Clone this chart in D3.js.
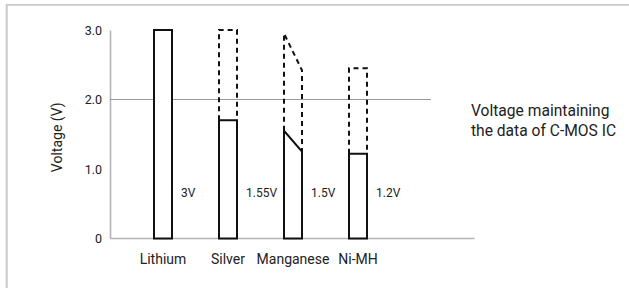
<!DOCTYPE html>
<html>
<head>
<meta charset="utf-8">
<script src="https://cdn.jsdelivr.net/npm/d3@7"></script>
<style>
  html, body { margin: 0; padding: 0; background: #fff; }
  svg { display: block; }
  text { font-family: Roboto, "Noto Sans", sans-serif; fill: #222; }
</style>
</head>
<body>
<svg id="chart" width="629" height="288"></svg>
<script>
// ---- data ----
const categories = ["Lithium", "Silver", "Manganese", "Ni-MH"];
const nominalLabels = ["3V", "1.55V", "1.5V", "1.2V"];
// top of solid outline at left / right edge of bar (V)
const solidLeft  = [3.0, 1.70, 1.55, 1.22];
const solidRight = [3.0, 1.70, 1.25, 1.22];
// top of dashed outline at left / right edge of bar (V); null = none
const dashedLeft  = [null, 3.0, 2.95, 2.45];
const dashedRight = [null, 3.0, 2.42, 2.45];
const thresholdValue = 2.0;
const thresholdLabel = ["Voltage maintaining", "the data of C-MOS IC"];
const yTicks = [0, 1, 2, 3];
const yTickLabels = ["0", "1.0", "2.0", "3.0"];
const yTitle = "Voltage (V)";

// ---- layout ----
const svg = d3.select("#chart");
const y = d3.scaleLinear().domain([0, 3]).range([238.5, 30]);
const x = d3.scalePoint().domain(categories).range([163, 358]);
const barW = 18;
const axisX = 110;

// frame (top + left)
svg.append("line").attr("x1", 6).attr("x2", 629).attr("y1", 4.8).attr("y2", 4.8)
  .attr("stroke", "#c8c8c8").attr("stroke-width", 1.8);
svg.append("line").attr("x1", 6.7).attr("x2", 6.7).attr("y1", 4).attr("y2", 288)
  .attr("stroke", "#c8c8c8").attr("stroke-width", 2);

// y axis
const yAxis = d3.axisLeft(y).tickValues(yTicks)
  .tickFormat((d, i) => yTickLabels[i]).tickSize(0).tickPadding(8);
const gy = svg.append("g").attr("transform", `translate(${axisX},0)`).call(yAxis);
gy.select(".domain").attr("stroke", "#b4b4b4").attr("stroke-width", 1.6);
gy.selectAll("text").style("font-family", "Roboto, sans-serif")
  .style("font-size", "12.5px").attr("fill", "#333");

// baseline
svg.append("line").attr("x1", axisX).attr("x2", 474.5)
  .attr("y1", y(0)).attr("y2", y(0))
  .attr("stroke", "#b4b4b4").attr("stroke-width", 1.6);

// threshold line
svg.append("line").attr("x1", axisX).attr("x2", 431)
  .attr("y1", y(thresholdValue)).attr("y2", y(thresholdValue))
  .attr("stroke", "#999").attr("stroke-width", 1.2);

// y title
svg.append("text")
  .attr("transform", `translate(62,${(y(0)+y(3))/2 + 3}) rotate(-90)`)
  .attr("text-anchor", "middle")
  .style("font-size", "14px")
  .text(yTitle);

// bars
const bars = svg.append("g");
categories.forEach((c, i) => {
  const x0 = x(c) - barW / 2, x1 = x(c) + barW / 2;
  // dashed part
  if (dashedLeft[i] !== null) {
    const pts = [[x0, y(solidLeft[i])], [x0, y(dashedLeft[i])],
                 [x1, y(dashedRight[i])], [x1, y(solidRight[i])]];
    bars.append("path")
      .attr("d", d3.line()(pts))
      .attr("fill", "none").attr("stroke", "#111")
      .attr("stroke-width", 2).attr("stroke-dasharray", "5,4");
  }
  // solid part
  const sp = [[x0, y(0)], [x0, y(solidLeft[i])], [x1, y(solidRight[i])], [x1, y(0)]];
  bars.append("path")
    .attr("d", d3.line()(sp) + "Z")
    .attr("fill", "#fff").attr("stroke", "#111").attr("stroke-width", 2)
    .attr("stroke-linejoin", "miter");
  // nominal voltage label
  bars.append("text")
    .attr("x", x(c) + 18).attr("y", 197)
    .style("font-size", "12px")
    .text(nominalLabels[i]);
  // category label
  bars.append("text")
    .attr("x", x(c)).attr("y", 263.5)
    .attr("text-anchor", "middle")
    .style("font-size", "14px")
    .text(c);
});

// threshold annotation
const ann = svg.append("text").style("font-size", "15.6px");
thresholdLabel.forEach((t, i) => {
  ann.append("tspan").attr("x", 471).attr("y", 116 + i * 19.5).text(t);
});
</script>
</body>
</html>
